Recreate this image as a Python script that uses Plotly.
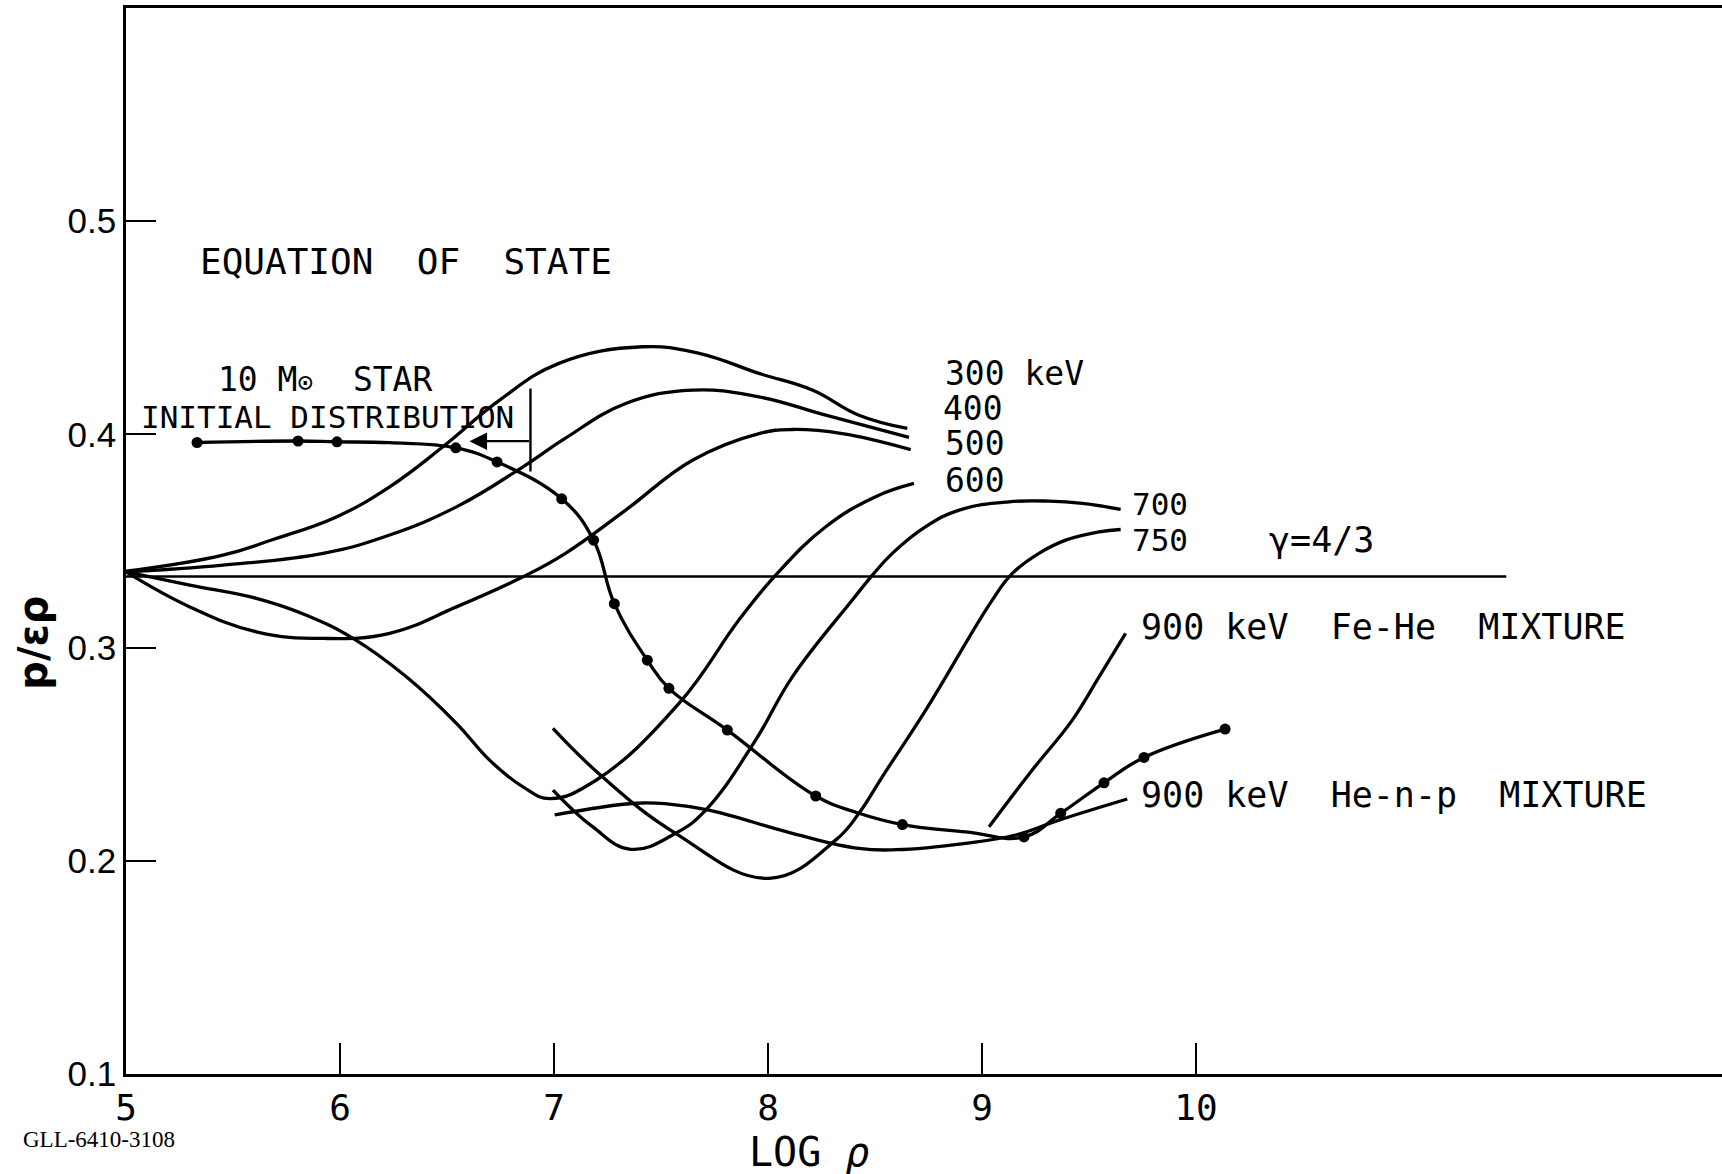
import plotly.graph_objects as go

# ---- data: p/(eps*rho) versus log(rho) ----
x_300 = [5.0, 5.453, 5.687, 5.983, 6.232, 6.481, 6.746, 7.023, 7.413, 7.678, 7.958, 8.207, 8.425, 8.651]
y_300 = [0.3358, 0.3434, 0.3507, 0.3613, 0.3754, 0.3942, 0.4161, 0.4333, 0.4411, 0.4380, 0.4286, 0.4208, 0.4090, 0.4028]

x_400 = [5.0, 5.453, 5.921, 6.232, 6.544, 6.855, 7.05, 7.335, 7.647, 7.958, 8.270, 8.659]
y_400 = [0.3355, 0.3387, 0.3442, 0.3528, 0.3660, 0.3848, 0.3980, 0.4145, 0.4208, 0.4176, 0.4090, 0.3986]

x_500 = [5.0, 5.298, 5.609, 5.921, 6.232, 6.544, 6.855, 7.05, 7.335, 7.647, 7.958, 8.114, 8.347, 8.667]
y_500 = [0.3355, 0.3191, 0.3074, 0.3043, 0.3067, 0.3191, 0.3332, 0.3440, 0.3645, 0.3879, 0.4004, 0.4023, 0.4004, 0.3929]

x_600 = [5.0, 5.298, 5.609, 5.843, 6.061, 6.310, 6.544, 6.699, 6.855, 6.980, 7.198, 7.584, 7.864, 8.036, 8.270, 8.503, 8.682]
y_600 = [0.3355, 0.3293, 0.3231, 0.3152, 0.3043, 0.2863, 0.2645, 0.2472, 0.2347, 0.2292, 0.2379, 0.2738, 0.3129, 0.3340, 0.3567, 0.3708, 0.3770]

x_700 = [6.995, 7.18, 7.358, 7.568, 7.709, 7.942, 8.114, 8.394, 8.488, 8.581, 8.737, 8.893, 9.126, 9.313, 9.469, 9.648]
y_700 = [0.2332, 0.2160, 0.2054, 0.2129, 0.2238, 0.2566, 0.2863, 0.3223, 0.3340, 0.3442, 0.3567, 0.3645, 0.3684, 0.3687, 0.3676, 0.3648]

x_750 = [6.995, 7.226, 7.568, 8.005, 8.316, 8.425, 8.534, 8.737, 9.048, 9.142, 9.266, 9.391, 9.547, 9.648]
y_750 = [0.2621, 0.2394, 0.2129, 0.1918, 0.2097, 0.2223, 0.2394, 0.2707, 0.3223, 0.3348, 0.3442, 0.3504, 0.3543, 0.3554]

x_fehe = [9.033, 9.235, 9.422, 9.547, 9.671]
y_fehe = [0.2160, 0.2426, 0.2660, 0.2863, 0.3067]

x_henp = [7.003, 7.382, 7.537, 7.724, 8.114, 8.425, 8.6, 8.924, 9.157, 9.360, 9.679]
y_henp = [0.2215, 0.2270, 0.2266, 0.2238, 0.2129, 0.2058, 0.2052, 0.2082, 0.2121, 0.2191, 0.2290]

# 10 solar-mass star, initial distribution (plotted points)
x_star_pts = [5.332, 5.804, 5.986, 6.541, 6.734, 7.036, 7.185, 7.282, 7.436, 7.537, 7.810, 8.223, 8.628, 9.196, 9.368, 9.570, 9.757, 10.136]
y_star_pts = [0.3962, 0.3969, 0.3965, 0.3937, 0.3871, 0.3698, 0.3504, 0.3206, 0.2941, 0.2809, 0.2613, 0.2304, 0.2170, 0.2112, 0.2223, 0.2366, 0.2485, 0.2618]
# curve drawn through the points
x_star_line = [5.332, 5.804, 5.986, 6.232, 6.541, 6.734, 7.036, 7.185, 7.282, 7.436, 7.537, 7.810, 8.223, 8.425, 8.628, 8.924, 9.196, 9.368, 9.570, 9.757, 10.136]
y_star_line = [0.3962, 0.3969, 0.3965, 0.3961, 0.3937, 0.3871, 0.3698, 0.3504, 0.3206, 0.2941, 0.2809, 0.2613, 0.2304, 0.2223, 0.2170, 0.2136, 0.2112, 0.2223, 0.2366, 0.2485, 0.2618]

# adiabatic index 4/3  ->  p/(eps*rho) = gamma - 1
gamma_ad = 4 / 3
gamma_level = gamma_ad - 1
gamma_x = [5.0, 11.45]

x_ticks = [5, 6, 7, 8, 9, 10]
x_tick_text = ["5", "6", "7", "8", "9", "10"]
y_ticks = [0.1, 0.2, 0.3, 0.4, 0.5]
y_tick_text = ["0.1", "0.2", "0.3", "0.4", "0.5"]

# (text, left x, centre y, font size)
curve_labels = [
    ("300 keV", 8.82, 0.4287, 33),
    ("400", 8.81, 0.4121, 33),
    ("500", 8.82, 0.3956, 33),
    ("600", 8.82, 0.3786, 33),
    ("700", 9.69, 0.3674, 31),
    ("750", 9.69, 0.3507, 31),
    ("γ=4/3", 10.33, 0.3504, 35),
    ("900 keV  Fe-He  MIXTURE", 9.735, 0.3096, 35),
    ("900 keV  He-n-p  MIXTURE", 9.735, 0.2308, 35),
]

INK = "black"
LETTER = "DejaVu Sans Mono"

fig = go.Figure()

line_style = dict(color=INK, width=3.3, shape="spline", smoothing=1.2)
for xs, ys in [(x_300, y_300), (x_400, y_400), (x_500, y_500), (x_600, y_600),
               (x_700, y_700), (x_750, y_750), (x_fehe, y_fehe), (x_henp, y_henp),
               (x_star_line, y_star_line)]:
    fig.add_trace(go.Scatter(x=xs, y=ys, mode="lines", line=line_style,
                             hoverinfo="skip", showlegend=False))

fig.add_trace(go.Scatter(x=x_star_pts, y=y_star_pts, mode="markers",
                         marker=dict(color=INK, size=11), showlegend=False))

# gamma = 4/3 reference line
fig.add_trace(go.Scatter(x=gamma_x, y=[gamma_level, gamma_level], mode="lines",
                         line=dict(color=INK, width=2.4), showlegend=False))

# bracket marking the initial distribution
fig.add_shape(type="line", x0=6.89, x1=6.89, y0=0.3826, y1=0.4215,
              line=dict(color=INK, width=2.4))
fig.add_annotation(x=6.605, y=0.3968, ax=6.89, ay=0.3968, xref="x", yref="y",
                   axref="x", ayref="y", text="", showarrow=True,
                   arrowhead=2, arrowsize=1.6, arrowwidth=2.2, arrowcolor=INK)

fig.add_annotation(x=5.335, y=0.4812, text="EQUATION  OF  STATE", showarrow=False,
                   xanchor="left", yanchor="middle", font=dict(family=LETTER, size=36, color=INK))
fig.add_annotation(x=5.93, y=0.4259,
                   text="10 M<span style='font-size:26px'>⊙</span>  STAR",
                   showarrow=False, xanchor="center", yanchor="middle",
                   font=dict(family=LETTER, size=33, color=INK))
fig.add_annotation(x=5.94, y=0.4081, text="INITIAL DISTRIBUTION", showarrow=False,
                   xanchor="center", yanchor="middle", font=dict(family=LETTER, size=31, color=INK))

for txt, lx, ly, fs in curve_labels:
    fig.add_annotation(x=lx, y=ly, text=txt, showarrow=False, xanchor="left",
                       yanchor="middle", font=dict(family=LETTER, size=fs, color=INK))

# axis titles and plate number, placed in paper coordinates outside the plot area
fig.add_annotation(x=0.428, y=-0.073, xref="paper", yref="paper", text="LOG <i>ρ</i>",
                   showarrow=False, xanchor="center", yanchor="middle",
                   font=dict(family=LETTER, size=40, color=INK))
fig.add_annotation(x=-0.058, y=0.405, xref="paper", yref="paper", text="<b>p/ερ</b>",
                   showarrow=False, textangle=-90, xanchor="center", yanchor="middle",
                   font=dict(family="DejaVu Sans", size=40, color=INK))
fig.add_annotation(x=-0.017, y=-0.061, xref="paper", yref="paper", text="GLL-6410-3108",
                   showarrow=False, xanchor="center", yanchor="middle",
                   font=dict(family="Liberation Serif", size=23, color=INK))

fig.update_layout(
    width=1722, height=1174,
    margin=dict(l=126, r=0, t=8, b=100),
    paper_bgcolor="white", plot_bgcolor="white",
    showlegend=False,
    xaxis=dict(range=[5, 12.458], tickvals=x_ticks, ticktext=x_tick_text,
               ticks="inside", ticklen=31, tickwidth=2.4, tickcolor=INK,
               showline=True, linewidth=2.6, linecolor=INK, mirror=True,
               showgrid=False, zeroline=False,
               tickfont=dict(family=LETTER, size=36, color=INK)),
    yaxis=dict(range=[0.1, 0.6], tickvals=y_ticks, ticktext=y_tick_text,
               ticks="inside", ticklen=30, tickwidth=2.4, tickcolor=INK,
               showline=True, linewidth=2.6, linecolor=INK,
               showgrid=False, zeroline=False,
               tickfont=dict(family="Liberation Sans", size=35, color=INK)),
)

fig.write_html("out.html")
